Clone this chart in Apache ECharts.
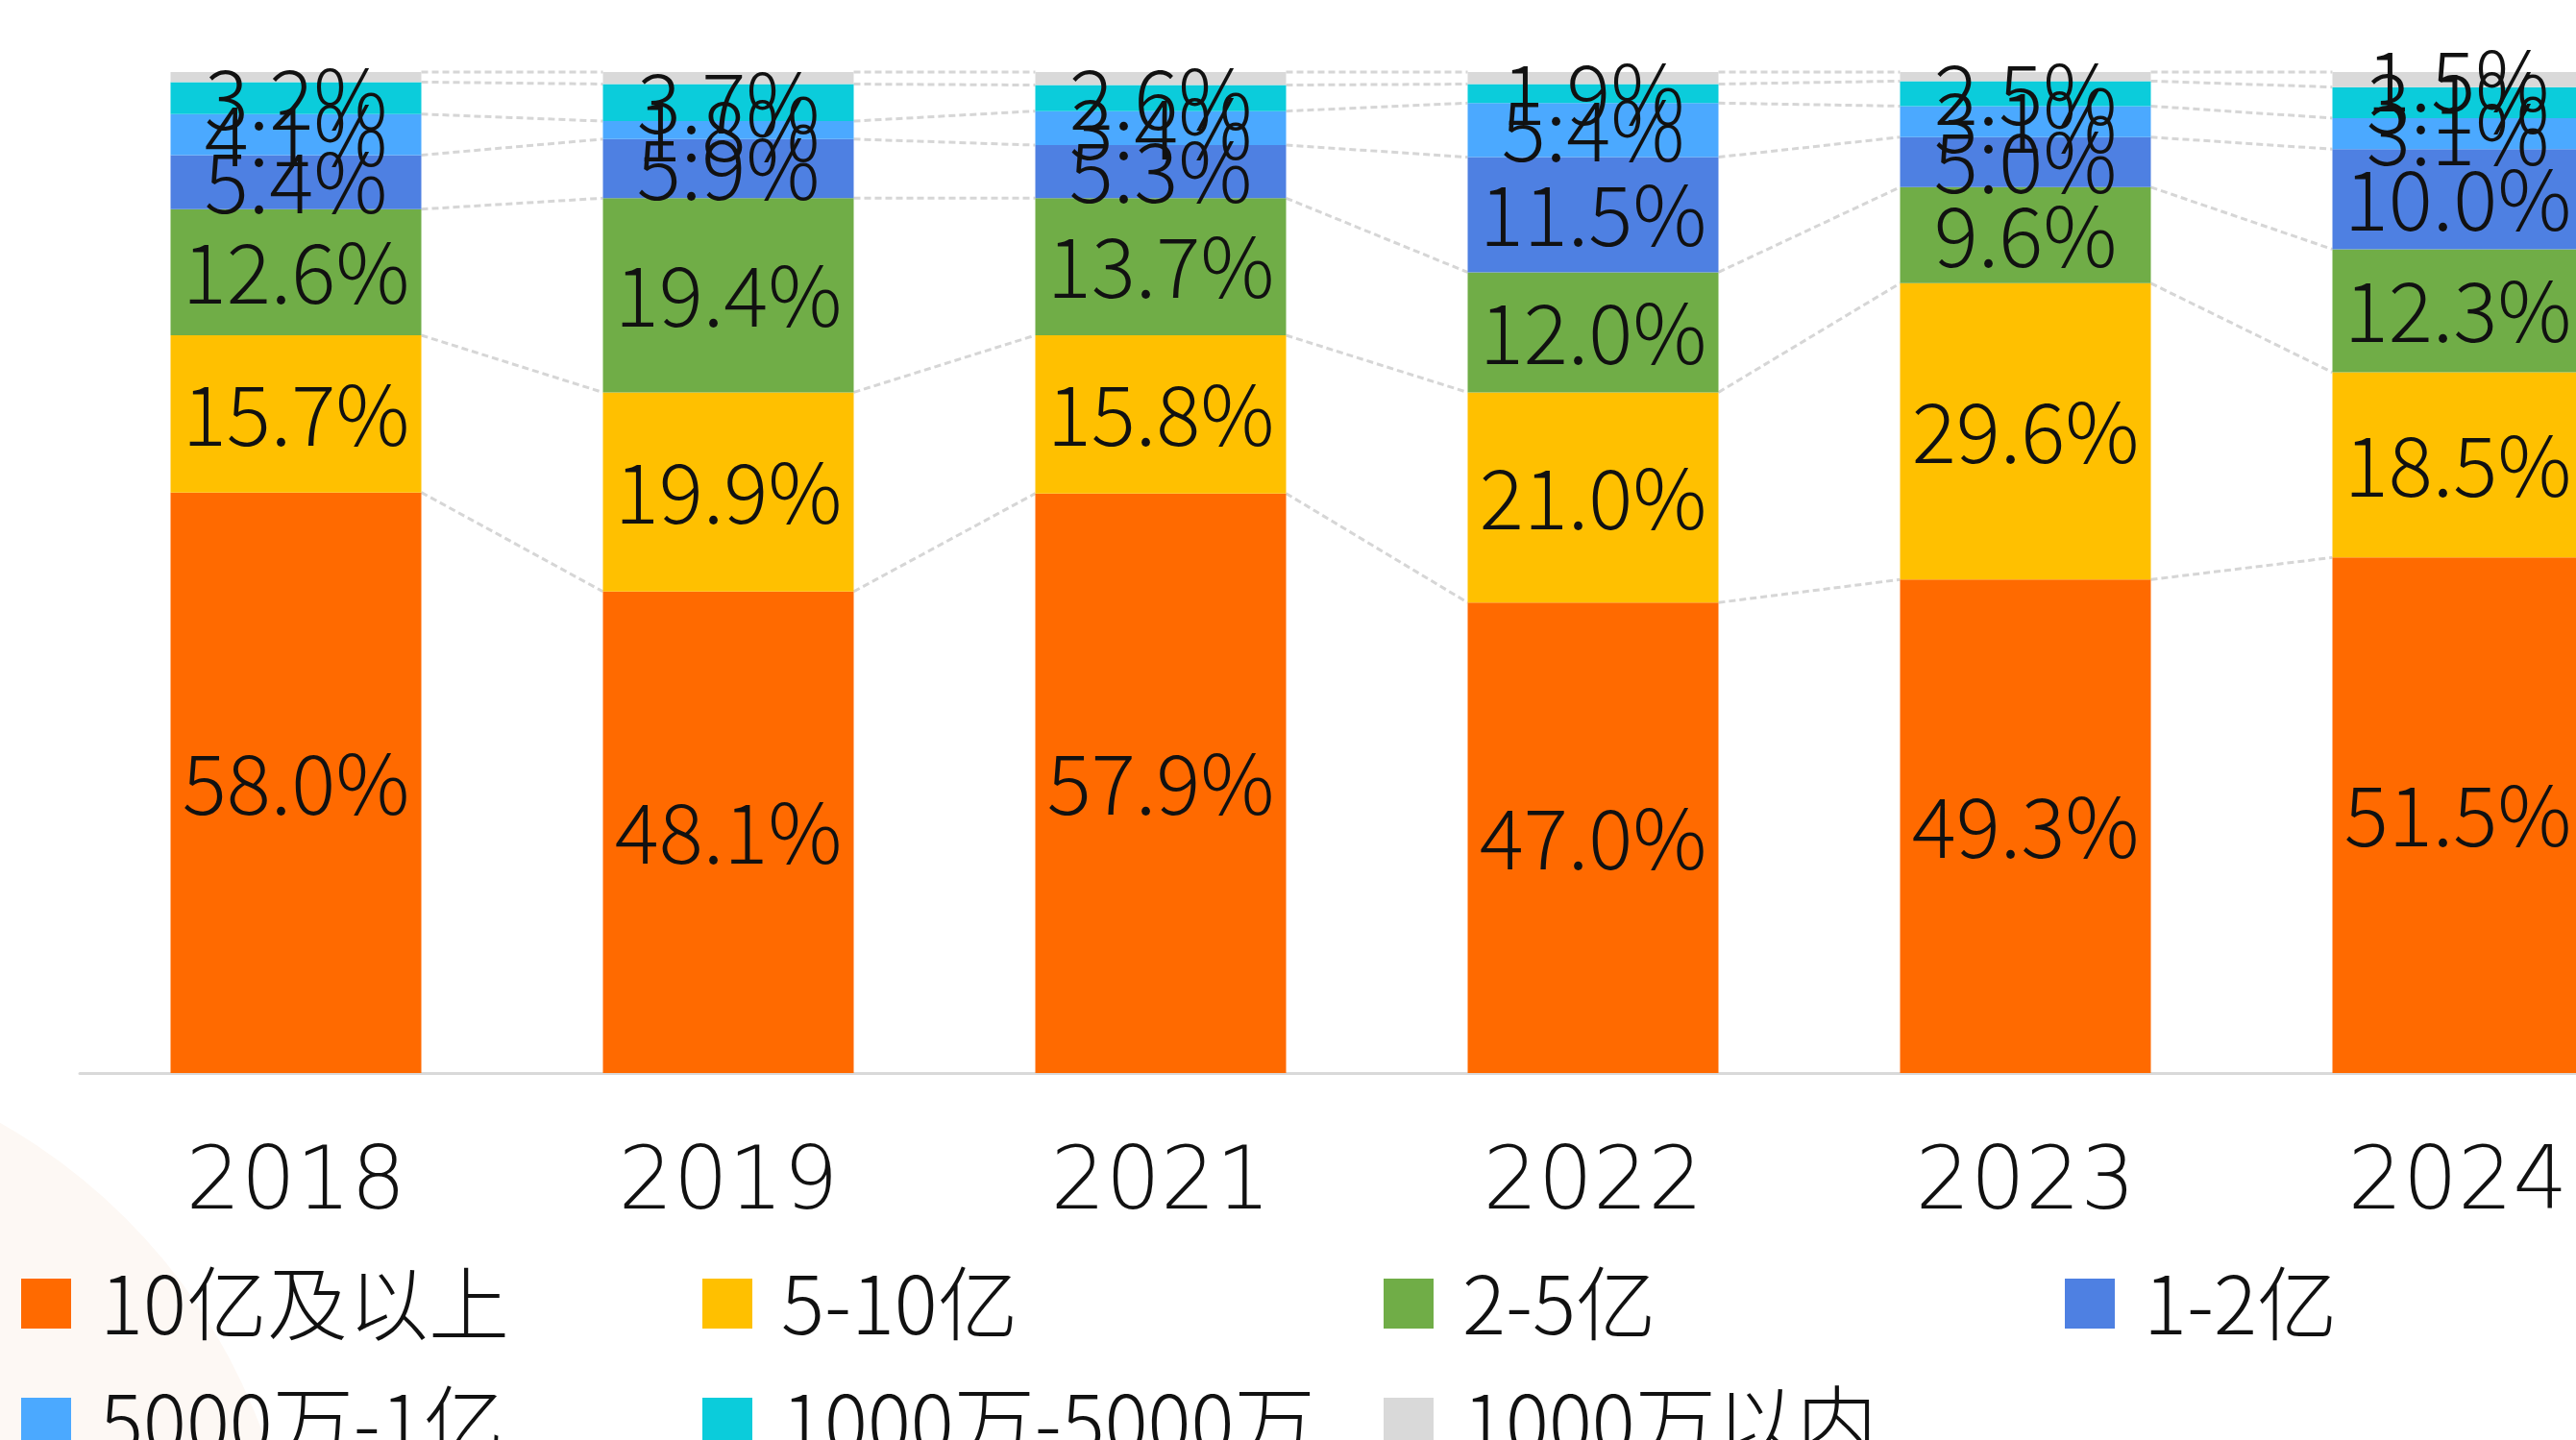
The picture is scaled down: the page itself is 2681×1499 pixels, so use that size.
<!DOCTYPE html>
<html>
<head>
<meta charset="utf-8">
<style>
  html, body { margin: 0; padding: 0; background: #fff; }
  #chart { width: 2681px; height: 1499px; }
</style>
<script src="https://cdn.jsdelivr.net/npm/echarts@6/dist/echarts.min.js"></script>
</head>
<body>
<div id="chart"></div>
<script>
// 年份
var years = ['2018', '2019', '2021', '2022', '2023', '2024'];

// 各区间占比（%），自下而上
var names = ['10亿及以上', '5-10亿', '2-5亿', '1-2亿', '5000万-1亿', '1000万-5000万', '1000万以内'];
var over10 = [58.0, 48.1, 57.9, 47.0, 49.3, 51.5];
var from5to10 = [15.7, 19.9, 15.8, 21.0, 29.6, 18.5];
var from2to5 = [12.6, 19.4, 13.7, 12.0, 9.6, 12.3];
var from1to2 = [5.4, 5.9, 5.3, 11.5, 5.0, 10.0];
var from5kwTo1 = [4.1, 1.8, 3.4, 5.4, 3.1, 3.1];
var from1kwTo5kw = [3.2, 3.7, 2.6, 1.9, 2.5, 3.1];
var under1kw = [1.0, 1.2, 1.3, 1.2, 0.9, 1.5];
// 原图只给 2024 年的 1000万以内 标了数
var under1kwLabeled = ['2024'];

var allVals = [over10, from5to10, from2to5, from1to2, from5kwTo1, from1kwTo5kw, under1kw];
var colors = ['#ff6a00', '#ffc000', '#70ad47', '#4e80e2', '#4ba9ff', '#0bccdb', '#d9d9d9'];

var BAR_RATIO = 0.58;
var FONT = '"Noto Sans CJK SC", "Noto Sans", sans-serif';

var labelStyle = {
  show: true,
  position: 'inside',
  color: '#111',
  fontSize: 86,
  fontWeight: 300,
  fontFamily: FONT,
  formatter: function (p) {
    return p.value.toFixed(1) + '%';
  }
};

var series = allVals.map(function (vals, k) {
  var isGray = k === allVals.length - 1;
  return {
    name: names[k],
    type: 'bar',
    stack: 'total',
    barCategoryGap: '42%',
    itemStyle: { color: colors[k] },
    label: labelStyle,
    data: vals.map(function (v, i) {
      if (isGray && under1kwLabeled.indexOf(years[i]) < 0) {
        return { value: v, label: { show: false } };
      }
      return v;
    })
  };
});

// 柱子之间的虚线连接
var renderLinks = function (params, api) {
  var i = api.value(0);
  if (i >= years.length - 1) return;
  var half = api.size([1, 0])[0] * BAR_RATIO / 2;
  var children = [];
  var a = 0, b = 0;
  allVals.forEach(function (vals) {
    a += vals[i];
    b += vals[i + 1];
    var p1 = api.coord([i, a]);
    var p2 = api.coord([i + 1, b]);
    children.push({
      type: 'line',
      shape: { x1: p1[0] + half, y1: p1[1], x2: p2[0] - half, y2: p2[1] },
      style: { stroke: '#d6d6d6', lineWidth: 3, lineDash: [7, 4] }
    });
  });
  return { type: 'group', children: children };
};

series.push({
  name: 'links',
  type: 'custom',
  renderItem: renderLinks,
  encode: { x: 0, y: 1 },
  z: 1,
  silent: true,
  data: years.map(function (y, i) { return [i, 0]; })
});

var option = {
  backgroundColor: '#fff',
  animation: false,
  graphic: [{
    type: 'circle',
    z: -10,
    shape: { cx: -300, cy: 1700, r: 610 },
    style: { fill: '#fdf8f4' },
    silent: true
  }],
  legend: {
    left: 22,
    top: 1315,
    width: 2850,
    padding: 0,
    itemWidth: 52,
    itemHeight: 52,
    itemGap: 40,
    icon: 'rect',
    data: names,
    textStyle: {
      color: '#111',
      fontSize: 84,
      fontWeight: 300,
      fontFamily: FONT,
      width: 587,
      lineHeight: 75,
      padding: [0, 0, 0, 25]
    }
  },
  grid: {
    left: 83,
    top: 75,
    width: 2700,
    height: 1042,
    outerBoundsMode: 'none',
    containLabel: false
  },
  xAxis: {
    type: 'category',
    data: years,
    axisTick: { show: false },
    axisLine: { lineStyle: { color: '#d9d9d9', width: 3 } },
    axisLabel: {
      margin: 73,
      color: '#111',
      fontSize: 90,
      fontWeight: 200,
      fontFamily: '"DejaVu Sans", sans-serif'
    }
  },
  yAxis: {
    type: 'value',
    min: 0,
    max: 100,
    show: false
  },
  series: series
};

var myChart = echarts.init(document.getElementById('chart'));
myChart.setOption(option);
</script>
</body>
</html>
